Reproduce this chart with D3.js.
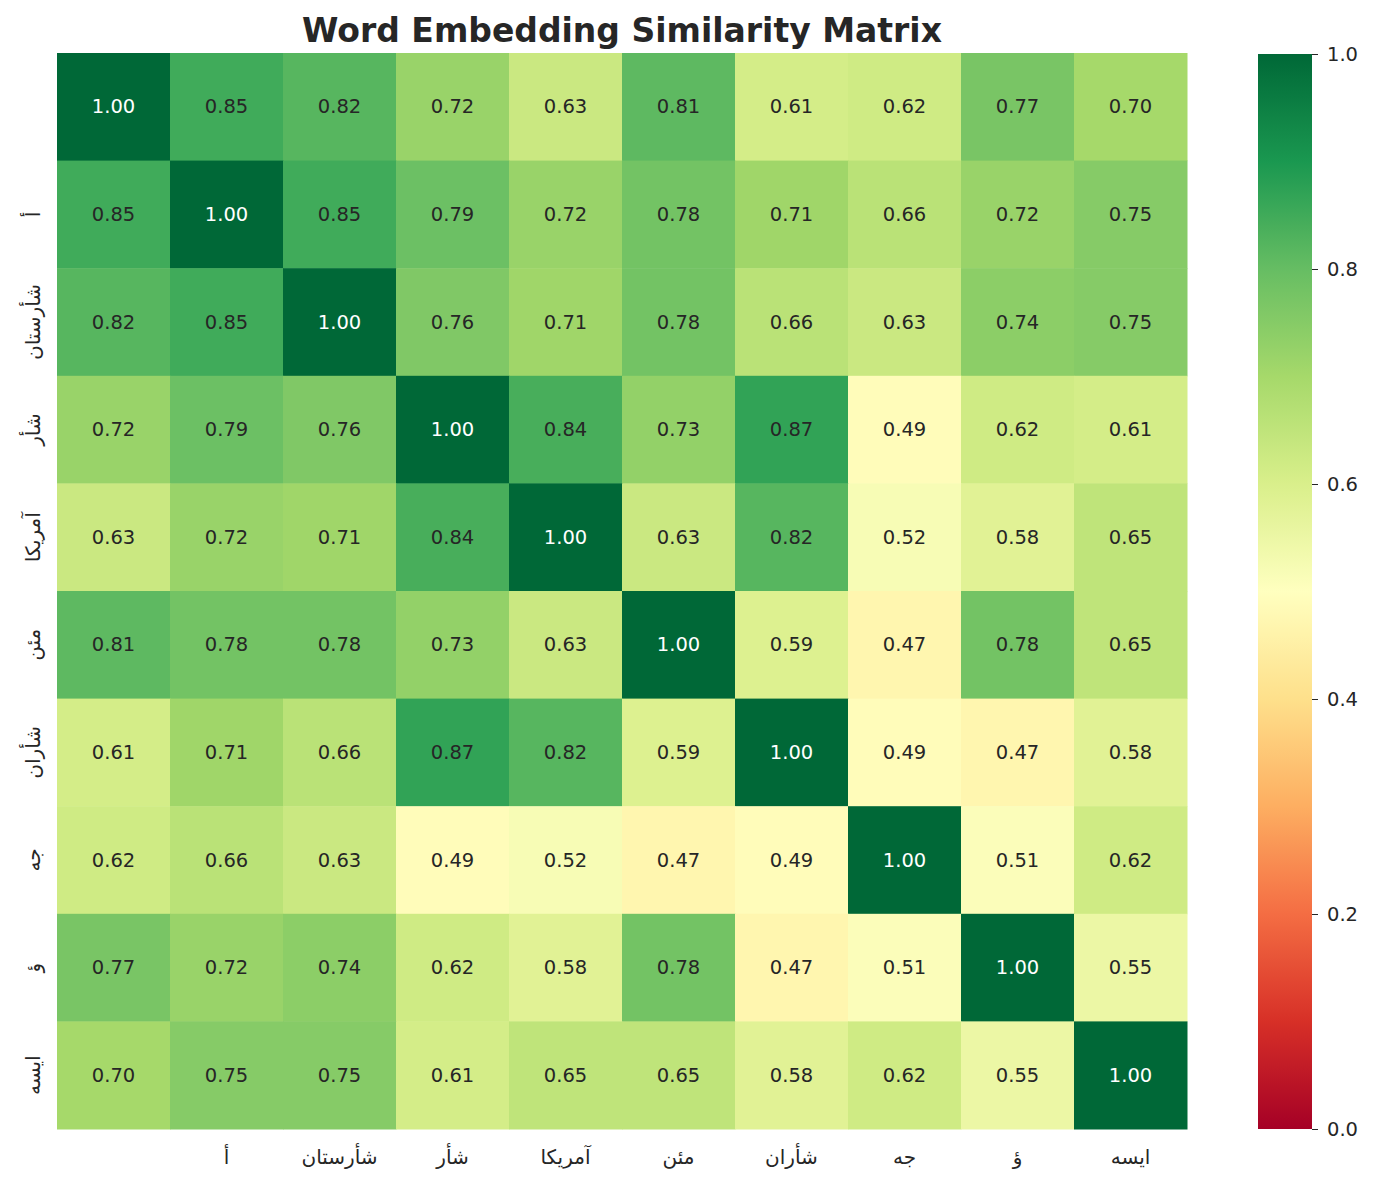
<!DOCTYPE html>
<html><head><meta charset="utf-8">
<script src="https://cdn.jsdelivr.net/npm/d3@7"></script>
<style>body{margin:0;background:#fff;} svg{display:block;font-family:"DejaVu Sans",sans-serif;}</style>
</head><body>
<script>
const labels = ["", "أ", "شأرستان", "شأر", "آمريكا", "مئن", "شأران", "جه", "ؤ", "ايسه"];
const matrix = [
  [1.00,0.85,0.82,0.72,0.63,0.81,0.61,0.62,0.77,0.70],
  [0.85,1.00,0.85,0.79,0.72,0.78,0.71,0.66,0.72,0.75],
  [0.82,0.85,1.00,0.76,0.71,0.78,0.66,0.63,0.74,0.75],
  [0.72,0.79,0.76,1.00,0.84,0.73,0.87,0.49,0.62,0.61],
  [0.63,0.72,0.71,0.84,1.00,0.63,0.82,0.52,0.58,0.65],
  [0.81,0.78,0.78,0.73,0.63,1.00,0.59,0.47,0.78,0.65],
  [0.61,0.71,0.66,0.87,0.82,0.59,1.00,0.49,0.47,0.58],
  [0.62,0.66,0.63,0.49,0.52,0.47,0.49,1.00,0.51,0.62],
  [0.77,0.72,0.74,0.62,0.58,0.78,0.47,0.51,1.00,0.55],
  [0.70,0.75,0.75,0.61,0.65,0.65,0.58,0.62,0.55,1.00]
];
const cbTicks = [0.0,0.2,0.4,0.6,0.8,1.0];
const title = "Word Embedding Similarity Matrix";

(function(){
const W = 1374, H = 1186;
const pL = 57, pR = 1187, pT = 53, pB = 1129;
const svg = d3.select("body").append("svg").attr("width", W).attr("height", H);

const rdylgn = ["#a50026","#d73027","#f46d43","#fdae61","#fee08b","#ffffbf","#d9ef8b","#a6d96a","#66bd63","#1a9850","#006837"];
const color = d3.scaleLinear().domain(d3.range(11).map(i => i/10)).range(rdylgn).interpolate(d3.interpolateRgb).clamp(true);

const idx = d3.range(labels.length);
const x = d3.scaleBand().domain(idx).range([pL, pR]);
const y = d3.scaleBand().domain(idx).range([pT, pB]);

function lum(c) {
  const rgb = d3.rgb(c);
  const f = v => { v /= 255; return v <= 0.03928 ? v/12.92 : Math.pow((v+0.055)/1.055, 2.4); };
  return 0.2126*f(rgb.r) + 0.7152*f(rgb.g) + 0.0722*f(rgb.b);
}

const cells = [];
matrix.forEach((row, i) => row.forEach((v, j) => cells.push({i, j, v})));

svg.append("g").selectAll("rect").data(cells).join("rect")
  .attr("x", d => x(d.j)).attr("y", d => y(d.i))
  .attr("width", x.bandwidth() + 0.5).attr("height", y.bandwidth() + 0.5)
  .attr("fill", d => color(d.v));

svg.append("g").selectAll("text").data(cells).join("text")
  .attr("x", d => x(d.j) + x.bandwidth()/2)
  .attr("y", d => y(d.i) + y.bandwidth()/2)
  .attr("text-anchor", "middle").attr("dominant-baseline", "central")
  .attr("font-size", 19.5)
  .attr("fill", d => lum(color(d.v)) < 0.2 ? "#ffffff" : "#262626")
  .text(d => d.v.toFixed(2));

svg.append("g").selectAll("text").data(idx).join("text")
  .attr("x", d => x(d) + x.bandwidth()/2).attr("y", 1157)
  .attr("text-anchor", "middle").attr("dominant-baseline", "central")
  .attr("font-size", 20).attr("fill", "#262626")
  .text(d => labels[d]);

svg.append("g").selectAll("text").data(idx).join("text")
  .attr("transform", d => `translate(33,${y(d) + y.bandwidth()/2}) rotate(-90)`)
  .attr("text-anchor", "middle").attr("dominant-baseline", "central")
  .attr("font-size", 20).attr("fill", "#262626")
  .text(d => labels[d]);

svg.append("text").attr("x", 622).attr("y", 30)
  .attr("text-anchor", "middle").attr("dominant-baseline", "central")
  .attr("font-size", 33).attr("font-weight", "bold").attr("fill", "#262626")
  .text(title);

const cbL = 1258, cbR = 1312, cbT = 54, cbB = 1129;
const defs = svg.append("defs");
const grad = defs.append("linearGradient").attr("id", "cbgrad")
  .attr("x1", 0).attr("y1", 1).attr("x2", 0).attr("y2", 0);
d3.range(0, 1.0001, 0.02).forEach(t => grad.append("stop").attr("offset", t).attr("stop-color", color(t)));
svg.append("rect").attr("x", cbL).attr("y", cbT).attr("width", cbR - cbL).attr("height", cbB - cbT)
  .attr("fill", "url(#cbgrad)");
const cy = d3.scaleLinear().domain([0, 1]).range([cbB, cbT]);
const cbAxis = d3.axisRight(cy).tickValues(cbTicks).tickFormat(d3.format(".1f")).tickSize(6).tickPadding(9);
const ga = svg.append("g").attr("transform", `translate(${cbR},0)`).call(cbAxis);
ga.select(".domain").remove();
ga.selectAll("line").attr("stroke", "#262626");
ga.selectAll("text").attr("font-size", 19.5).attr("fill", "#262626").attr("font-family", "DejaVu Sans");
})();
</script>
</body></html>
